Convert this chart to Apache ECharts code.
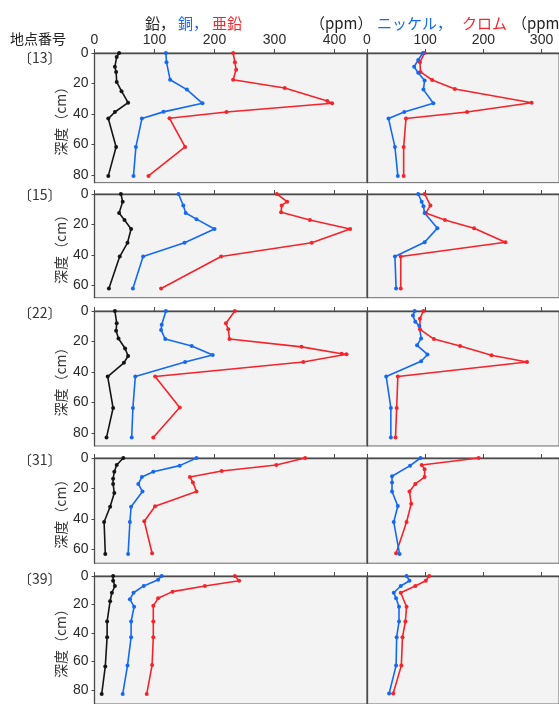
<!DOCTYPE html>
<html>
<head>
<meta charset="utf-8">
<script src="https://cdn.jsdelivr.net/npm/echarts@6/dist/echarts.min.js"></script>
<style>
html,body{margin:0;padding:0;background:#fff}
#chart{width:559px;height:704px}
</style>
</head>
<body>
<div id="chart"></div>
<script>
// Soil profiles: heavy-metal content (ppm) versus depth (cm) at five sampling sites.
// Each entry is [depth (cm), content (ppm)].

const siteIds = ['13', '15', '22', '31', '39'];
const ppmTicksLeft = [0, 100, 200, 300, 400];
const ppmTicksRight = [0, 100, 200, 300];
const depthTicks = [0, 20, 40, 60, 80];
const depthRange = [85, 68, 88.5, 69, 90];

// site 13
const pb13 = [[0,41],[2.6,37],[9,34],[12.4,36],[19,37],[25,45],[32.6,56],[38.7,34],[43,23],[61.6,36],[80.6,23]];
const cu13 = [[0,119],[6,120],[17.5,126],[24,154],[33,180],[38.6,115],[43,79],[61.6,69],[80.6,65]];
const zn13 = [[0,231],[6,234],[11,236],[17.5,231],[23,317],[31.5,388],[33,396],[38.7,220],[42.8,125],[61.6,151],[80.6,90]];
const ni13 = [[0,96],[4.6,88],[9,81],[13,88],[18,99],[24,97],[33,114],[38.7,64],[43,37],[61.6,48],[80.6,53]];
const cr13 = [[0,99],[6,91],[12.4,92],[17.7,112],[23.6,151],[32.6,283],[38.7,172],[43,67],[61.6,63],[80.6,63]];

// site 15
const pb15 = [[0,44],[5,47],[12.5,41],[17,50],[23,61],[32,55],[41,42],[62,24]];
const cu15 = [[0,140],[7.5,148],[12.5,152],[16.5,170],[23,200],[32,150],[41,81],[62,64]];
const zn15 = [[0,304],[5,321],[7.5,312],[12,311],[17,359],[23,426],[32,362],[41,211],[62,111]];
const ni15 = [[0,88],[5,94],[8,97],[12.5,99],[22.4,121],[31.6,99],[41,48],[62,50]];
const cr15 = [[0,99],[7.5,109],[12.5,101],[17,134],[22.4,184],[31.6,238],[41,58],[62,58]];

// site 22
const pb22 = [[0,34],[8,37],[13,36],[18,40],[24.6,51],[29.5,56],[34,49],[43,22],[63.6,31],[83,20]];
const cu22 = [[0,119],[9,112],[12.5,111],[18.4,118],[23,162],[28.9,197],[33.4,151],[43,68],[63.6,64],[83,62]];
const zn22 = [[0,234],[8,219],[12,223],[18.4,225],[23.5,345],[28,412],[28.4,420],[33.4,348],[43,101],[63.3,142],[83,98]];
const ni22 = [[0,82],[3,79],[7,83],[9.8,90],[18,93],[22.5,86],[28.5,104],[33,93],[43,33],[63.6,41],[83,41]];
const cr22 = [[0,97],[5,91],[12,91],[18.4,115],[23,160],[29,214],[33.4,275],[43,53],[63.6,51],[83,49]];

// site 31
const pb31 = [[0,48],[4.6,37],[9,33],[13.6,31],[17,31],[23,33],[32,26],[42,16],[63,18]];
const cu31 = [[0,170],[5,142],[9,98],[12.5,79],[17,73],[22,80],[32,61],[42,59],[63,56]];
const zn31 = [[0,351],[4.6,303],[8.5,212],[12.5,159],[16,164],[22,170],[31.6,101],[41.5,83],[62.5,96]];
const ni31 = [[0,92],[5,74],[12,43],[16,43],[22,43],[31.5,53],[42,46],[63,56]];
const cr31 = [[0,192],[4.6,94],[7.3,99],[12.5,99],[17,83],[22,73],[30,76],[42,68],[62.5,50]];

// site 39
const pb39 = [[0,31],[3.3,31],[7,34],[11.8,29],[17.7,26],[32,21],[43,21],[63.6,18],[83,12]];
const cu39 = [[0,112],[2.6,106],[7,82],[11.8,65],[16.4,59],[21.6,66],[32,61],[43,61],[63,55],[83,47]];
const zn39 = [[0,234],[3.3,241],[7,184],[11,130],[15.7,106],[21,98],[32,98],[43,98],[62.6,96],[83,87]];
const ni39 = [[0,68],[3.3,73],[7,58],[11.8,46],[15.7,50],[21.6,55],[32,55],[43,51],[63,50],[82.6,38]];
const cr39 = [[0,107],[3.3,101],[7,83],[11.8,58],[21.6,68],[32,66],[43,61],[63,59],[82.6,45]];

const sites = [
  { pb: pb13, cu: cu13, zn: zn13, ni: ni13, cr: cr13 },
  { pb: pb15, cu: cu15, zn: zn15, ni: ni15, cr: cr15 },
  { pb: pb22, cu: cu22, zn: zn22, ni: ni22, cr: cr22 },
  { pb: pb31, cu: cu31, zn: zn31, ni: ni31, cr: cr31 },
  { pb: pb39, cu: cu39, zn: zn39, ni: ni39, cr: cr39 }
];

// ---- layout ----
const panelTops = [53, 194, 311, 458, 576];
const CM_PX = 1.525;
const LEFT_X = 94.5;
const DIVIDER_X = 367;
const LEFT_PPM_PX = 0.6;
const RIGHT_PPM_PX = 0.603;
const LEFT_MAX = (DIVIDER_X - LEFT_X) / LEFT_PPM_PX;
const RIGHT_MAX = 330;

const BLACK = '#151515', BLUE = '#1469f0', RED = '#f5232a';
const AXIS = '#4a4a4a';
const LABEL_FONT = '"Liberation Sans", Arial, sans-serif';
const JP_FONT = '"Noto Sans CJK JP", sans-serif';

const grids = [], xAxes = [], yAxes = [], series = [];

siteIds.forEach((id, i) => {
  const top = panelTops[i];
  const h = depthRange[i] * CM_PX;
  const first = i === 0;
  const yTicks = depthTicks.filter(v => v <= depthRange[i]);

  // left panel: lead, copper, zinc
  grids.push({ left: LEFT_X, top: top, width: DIVIDER_X - LEFT_X, height: h,
    show: true, backgroundColor: '#f3f3f3', borderColor: '#6a6a6a', borderWidth: 1 });
  // right panel: nickel, chromium
  grids.push({ left: DIVIDER_X, top: top, width: RIGHT_MAX * RIGHT_PPM_PX, height: h,
    show: true, backgroundColor: '#f3f3f3', borderColor: '#6a6a6a', borderWidth: 1 });

  [[LEFT_MAX, ppmTicksLeft], [RIGHT_MAX, ppmTicksRight]].forEach(([mx, ticks], k) => {
    xAxes.push({
      type: 'value', gridIndex: 2 * i + k, position: 'top', min: 0, max: mx,
      splitLine: { show: false },
      axisLine: { show: true, lineStyle: { color: AXIS, width: 1.3 } },
      axisTick: { show: true, length: 4, customValues: ticks, lineStyle: { color: AXIS } },
      axisLabel: { show: first, customValues: ticks, margin: 6, color: '#2a2a2a',
        fontSize: 14, fontFamily: LABEL_FONT }
    });
    yAxes.push({
      type: 'value', gridIndex: 2 * i + k, inverse: true, min: 0, max: depthRange[i],
      splitLine: { show: false },
      axisLine: { show: true, onZero: false, lineStyle: { color: AXIS, width: 1.3 } },
      axisTick: { show: k === 0, length: 3, customValues: yTicks, lineStyle: { color: AXIS } },
      axisLabel: { show: k === 0, customValues: yTicks, margin: 6, color: '#2a2a2a',
        fontSize: 14, fontFamily: LABEL_FONT },
      name: k === 0 ? '深度（cm）' : '',
      nameLocation: 'middle', nameRotate: 90, nameGap: 27,
      nameTextStyle: { fontSize: 14, color: '#333', fontFamily: JP_FONT }
    });
  });

  const s = sites[i];
  const add = (rows, axis, color) => series.push({
    type: 'line', xAxisIndex: axis, yAxisIndex: axis,
    data: rows.map(r => [r[1], r[0]]),
    symbol: 'circle', symbolSize: 4, showSymbol: true,
    itemStyle: { color: color },
    lineStyle: { color: color, width: 1.6 },
    clip: true, silent: true
  });
  add(s.zn, 2 * i, RED);
  add(s.cu, 2 * i, BLUE);
  add(s.pb, 2 * i, BLACK);
  add(s.cr, 2 * i + 1, RED);
  add(s.ni, 2 * i + 1, BLUE);
});

// header and site labels
const txt = (x, y, text, color, size, align) => ({
  type: 'text', left: x, top: y, z: 100,
  style: { text: text, fill: color, fontSize: size || 15, fontFamily: JP_FONT,
    textAlign: align || 'left', textVerticalAlign: 'middle' }
});
const graphics = [
  { type: 'text', x: 145, y: 23, z: 100, style: { text: '鉛，', fill: '#222', fontSize: 15, fontFamily: JP_FONT, textVerticalAlign: 'middle' } },
  { type: 'text', x: 178, y: 23, z: 100, style: { text: '銅，', fill: BLUE, fontSize: 15, fontFamily: JP_FONT, textVerticalAlign: 'middle' } },
  { type: 'text', x: 212, y: 23, z: 100, style: { text: '亜鉛', fill: RED, fontSize: 15, fontFamily: JP_FONT, textVerticalAlign: 'middle' } },
  { type: 'text', x: 310, y: 23, z: 100, style: { text: '（ppm）', fill: '#222', fontSize: 15, fontFamily: JP_FONT, textVerticalAlign: 'middle' } },
  { type: 'text', x: 377, y: 23, z: 100, style: { text: 'ニッケル，', fill: BLUE, fontSize: 15, fontFamily: JP_FONT, textVerticalAlign: 'middle' } },
  { type: 'text', x: 462, y: 23, z: 100, style: { text: 'クロム', fill: RED, fontSize: 15, fontFamily: JP_FONT, textVerticalAlign: 'middle' } },
  { type: 'text', x: 512, y: 23, z: 100, style: { text: '（ppm）', fill: '#222', fontSize: 15, fontFamily: JP_FONT, textVerticalAlign: 'middle' } },
  { type: 'text', x: 10, y: 39, z: 100, style: { text: '地点番号', fill: '#222', fontSize: 14, fontFamily: JP_FONT, textVerticalAlign: 'middle' } }
];
const siteLabelY = [58, 195, 313, 460, 579];
siteIds.forEach((id, i) => {
  graphics.push({ type: 'text', x: 18, y: siteLabelY[i], z: 100,
    style: { text: '〔' + id + '〕', fill: '#333', fontSize: 14, fontFamily: JP_FONT, textVerticalAlign: 'middle' } });
});

const chart = echarts.init(document.getElementById('chart'), null, { renderer: 'canvas' });
chart.setOption({
  animation: false,
  backgroundColor: '#ffffff',
  grid: grids,
  xAxis: xAxes,
  yAxis: yAxes,
  series: series,
  graphic: graphics
});
</script>
</body>
</html>
